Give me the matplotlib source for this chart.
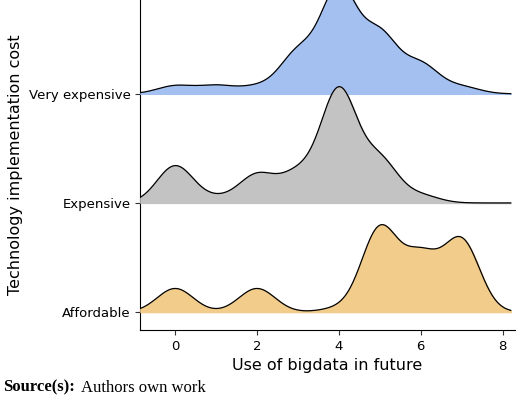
import numpy as np
from matplotlib import pyplot as plt

# responses per score (0..7) for each cost category
scores = np.arange(8)
affordable = [2, 0, 2, 0, 0.3, 7, 4.5, 6]
expensive = [4, 0.5, 3, 3, 12, 4.5, 0.8, 0]
very_expensive = [0.7, 0.7, 0.6, 3.5, 9, 5, 2.5, 0.6]

categories = ['Affordable', 'Expensive', 'Very expensive']
series = [affordable, expensive, very_expensive]
colors = ['#f1cc8b', '#c3c3c3', '#a3c0f0']

def kde(xs, counts, bw=0.44):
    counts = np.asarray(counts, float)
    d = np.zeros_like(xs)
    for s, c in zip(scores, counts):
        d += c * np.exp(-0.5 * ((xs - s) / bw) ** 2)
    return d / (counts.sum() * bw * np.sqrt(2 * np.pi))

fig = plt.figure(figsize=(5.2, 4.04), dpi=100)
ax = fig.add_axes([0.27, 0.183, 0.72, 0.817])
xs = np.linspace(-0.85, 8.2, 600)
scale = 2.6
for i, (counts, col) in list(enumerate(zip(series, colors)))[::-1]:
    y = i + scale * kde(xs, counts)
    ax.fill_between(xs, i, y, color=col, zorder=10 - i)
    ax.plot(xs, y, color='black', lw=0.9, zorder=10 - i)

ax.set_xlim(-0.85, 8.3)
ax.set_ylim(-0.165, 2.86)
ax.set_yticks(range(3))
ax.set_yticklabels(categories, fontsize=9.5)
ax.set_xticks([0, 2, 4, 6, 8])
ax.tick_params(labelsize=9.5, color='#333333')
ax.spines['top'].set_visible(False)
ax.spines['right'].set_visible(False)
ax.set_xlabel('Use of bigdata in future', fontsize=11.5)
ax.set_ylabel('Technology implementation cost', fontsize=11.5)

fig.text(0.005, 0.03, 'Source(s):', fontsize=12, fontweight='bold', family='Liberation Serif')
fig.text(0.155, 0.03, 'Authors own work', fontsize=12, family='Liberation Serif')
fig.savefig('out.png', dpi=100)
